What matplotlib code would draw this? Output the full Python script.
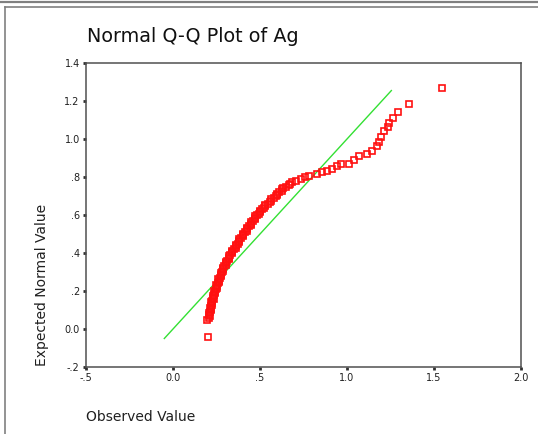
import matplotlib
matplotlib.use("Agg")
import matplotlib.pyplot as plt
from matplotlib.lines import Line2D

observed = [
    0.199, 0.198,
    0.205, 0.209, 0.213, 0.217, 0.220, 0.223, 0.227, 0.231, 0.236, 0.241,
    0.246, 0.251, 0.256, 0.262, 0.268, 0.275, 0.282, 0.288, 0.295, 0.302,
    0.311, 0.320, 0.330, 0.340, 0.351, 0.361, 0.371, 0.381, 0.392, 0.403,
    0.414, 0.425, 0.437, 0.449, 0.462, 0.472, 0.485, 0.498, 0.511, 0.527,
    0.544, 0.561, 0.578, 0.595, 0.611, 0.627, 0.648, 0.675, 0.705, 0.735,
    0.760, 0.780,
    0.826, 0.854, 0.883, 0.912, 0.941, 0.964, 1.010, 1.039, 1.067, 1.113,
    1.142, 1.171, 1.182, 1.194, 1.211, 1.234, 1.240, 1.263, 1.292, 1.355,
    1.548,
]
expected = [
    -0.044, 0.049,
    0.060, 0.075, 0.090, 0.105, 0.120, 0.135, 0.150, 0.165, 0.180, 0.195,
    0.210, 0.225, 0.240, 0.255, 0.270, 0.285, 0.300, 0.315, 0.330, 0.345,
    0.360, 0.375, 0.390, 0.405, 0.420, 0.435, 0.450, 0.465, 0.480, 0.495,
    0.510, 0.525, 0.540, 0.555, 0.570, 0.585, 0.600, 0.615, 0.630, 0.645,
    0.660, 0.675, 0.690, 0.705, 0.720, 0.735, 0.750, 0.765, 0.780, 0.792,
    0.800, 0.807,
    0.817, 0.824, 0.833, 0.842, 0.856, 0.868, 0.870, 0.887, 0.908, 0.923,
    0.935, 0.961, 0.986, 1.012, 1.044, 1.065, 1.086, 1.112, 1.143, 1.184,
    1.266,
]

# further cases packed into the dense band
observed_band = [
    0.212, 0.206, 0.220, 0.214, 0.227, 0.220, 0.234, 0.229, 0.244, 0.238,
    0.254, 0.249, 0.264, 0.260, 0.277, 0.274, 0.290, 0.287, 0.304, 0.302,
    0.321, 0.320, 0.340, 0.341, 0.361, 0.361, 0.381, 0.382, 0.403, 0.404,
    0.425, 0.426, 0.448, 0.451, 0.472, 0.474, 0.497, 0.500, 0.524, 0.531,
    0.558, 0.565, 0.592, 0.598, 0.624, 0.633, 0.667, 0.685,
]
expected_band = [
    0.0675, 0.0825, 0.0975, 0.1125, 0.1275, 0.1425, 0.1575, 0.1725, 0.1875, 0.2025,
    0.2175, 0.2325, 0.2475, 0.2625, 0.2775, 0.2925, 0.3075, 0.3225, 0.3375, 0.3525,
    0.3675, 0.3825, 0.3975, 0.4125, 0.4275, 0.4425, 0.4575, 0.4725, 0.4875, 0.5025,
    0.5175, 0.5325, 0.5475, 0.5625, 0.5775, 0.5925, 0.6075, 0.6225, 0.6375, 0.6525,
    0.6675, 0.6825, 0.6975, 0.7125, 0.7275, 0.7425, 0.7575, 0.7725,
]

ref_line = [-0.05, 1.255]

x_ticks = [-0.5, 0.0, 0.5, 1.0, 1.5, 2.0]
x_labels = ["-.5", "0.0", ".5", "1.0", "1.5", "2.0"]
y_ticks = [-0.2, 0.0, 0.2, 0.4, 0.6, 0.8, 1.0, 1.2, 1.4]
y_labels = ["-.2", "0.0", ".2", ".4", ".6", ".8", "1.0", "1.2", "1.4"]


def main():
    fig = plt.figure(figsize=(5.38, 4.34), dpi=100)
    W, H = 538.0, 434.0

    # window-like frame around the chart
    gray = "#808080"
    fig.add_artist(Line2D([0, 1], [1 - 1.5 / H, 1 - 1.5 / H], color=gray, lw=1.6))
    fig.add_artist(Line2D([5 / W, 1], [1 - 7 / H, 1 - 7 / H], color=gray, lw=1.2))
    fig.add_artist(Line2D([5 / W, 5 / W], [0, 1 - 7 / H], color=gray, lw=1.2))

    ax = fig.add_axes([86 / W, 1 - 367 / H, 435 / W, 304 / H])

    ax.plot(ref_line, ref_line, color="#33e033", lw=1.0, zorder=2)
    xs = observed + observed_band
    ys = expected + expected_band
    ax.plot(xs, ys, linestyle="none", marker="s", markersize=4.9,
            markerfacecolor="none", markeredgecolor="#ff1010",
            markeredgewidth=1.2, zorder=3)

    ax.set_xlim(-0.5, 2.0)
    ax.set_ylim(-0.2, 1.4)
    ax.set_xticks(x_ticks)
    ax.set_xticklabels(x_labels)
    ax.set_yticks(y_ticks)
    ax.set_yticklabels(y_labels)
    ax.tick_params(direction="out", length=2.5, width=2, color="#303030",
                   labelsize=7, pad=2, labelcolor="#202020")

    for s in ax.spines.values():
        s.set_color("#505050")
        s.set_linewidth(1.1)

    fig.text(87 / W, 1 - 37 / H, "Normal Q-Q Plot of Ag", fontsize=13.8,
             va="center", ha="left", color="#101010")
    fig.text(86 / W, 1 - 417 / H, "Observed Value", fontsize=10,
             va="center", ha="left", color="#202020")
    fig.text(42 / W, 1 - 366 / H, "Expected Normal Value", fontsize=10,
             va="bottom", ha="center", rotation=90, color="#202020")

    fig.savefig("out.png", dpi=100)


if __name__ == '__main__':
    main()
